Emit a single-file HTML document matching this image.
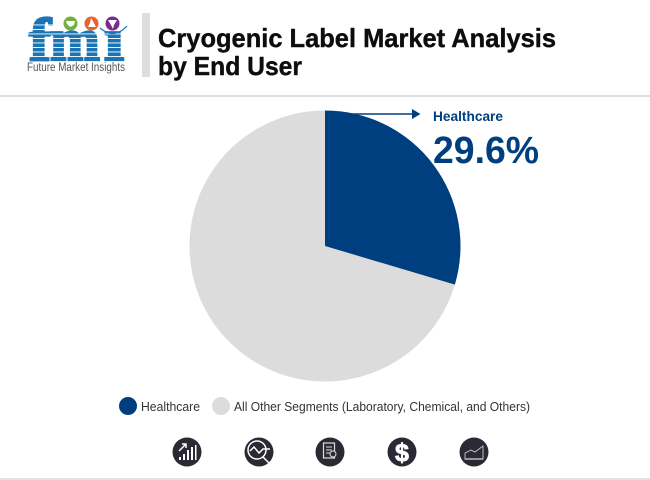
<!DOCTYPE html>
<html>
<head>
<meta charset="utf-8">
<style>
html,body{margin:0;padding:0;background:#fff;width:650px;height:480px;overflow:hidden}
svg{display:block}
text{font-family:"Liberation Sans",sans-serif}
</style>
</head>
<body>
<svg id="chart" width="650" height="480" viewBox="0 0 650 480" xmlns="http://www.w3.org/2000/svg">
  <rect width="650" height="480" fill="#fff"/>

  <g>
    <g font-size="60" font-weight="700" fill="#1b75b4" stroke="#1b75b4" stroke-width="2.2" style="font-family:'Liberation Serif',serif">
      <text x="29" y="60" textLength="22" lengthAdjust="spacingAndGlyphs" style="font-family:'Liberation Serif',serif">f</text>
      <text x="50" y="60" textLength="50" lengthAdjust="spacingAndGlyphs" style="font-family:'Liberation Serif',serif">m</text>
      <text x="104" y="60" textLength="20" lengthAdjust="spacingAndGlyphs" style="font-family:'Liberation Serif',serif">ı</text>
    </g>
    <g fill="#fff">
      <rect x="26" y="24.500" width="102" height="0.9"/><rect x="26" y="29" width="102" height="0.9"/>
      <rect x="26" y="33.500" width="102" height="0.9"/><rect x="26" y="38" width="102" height="0.9"/>
      <rect x="26" y="42.500" width="102" height="0.9"/><rect x="26" y="47" width="102" height="0.9"/>
      <rect x="26" y="51.500" width="102" height="0.9"/><rect x="26" y="56" width="102" height="0.9"/>
    </g>
    <circle cx="70.500" cy="23.500" r="7" fill="#72b13f"/>
    <path d="M66 21h9l-1 4-4 2-3-3z" fill="#fff"/>
    <circle cx="91.500" cy="23.500" r="7" fill="#e8622c"/>
    <path d="M91 18l3 5 2 4h-8l2-4z" fill="#fff"/>
    <circle cx="112.500" cy="23.500" r="7" fill="#7b2a8f"/>
    <path d="M108 20h9l-3 5-1 4-2-4z" fill="#fff"/>
    <path d="M100 28q14 12 27-2" fill="none" stroke="#1b75b4" stroke-width="1.200"/>
    <text x="27" y="71" font-size="11.500" fill="#555" textLength="98" lengthAdjust="spacingAndGlyphs">Future Market Insights</text>
  </g>

  <rect x="142" y="13" width="8" height="64" fill="#dedede"/>
  <text x="158" y="47" font-size="26" font-weight="700" fill="#0d0d0d" stroke="#0d0d0d" stroke-width="0.4" textLength="398" lengthAdjust="spacingAndGlyphs">Cryogenic Label Market Analysis</text>
  <text x="158" y="75" font-size="26" font-weight="700" fill="#0d0d0d" stroke="#0d0d0d" stroke-width="0.4" textLength="144" lengthAdjust="spacingAndGlyphs">by End User</text>
  <rect x="0" y="95" width="650" height="2" fill="#dedede"/>

  <g id="pie"></g>

  <g>
    <line x1="325" y1="114" x2="416" y2="114" stroke="#003f7f" stroke-width="1.500"/>
    <path d="M412 109l8.500 5-8.500 5z" fill="#003f7f"/>
    <text x="433" y="121" font-size="14" font-weight="700" fill="#003f7f" textLength="70" lengthAdjust="spacingAndGlyphs">Healthcare</text>
    <text id="callout-value" x="433" y="163" font-size="38" font-weight="700" fill="#003f7f" textLength="106" lengthAdjust="spacingAndGlyphs"></text>
  </g>

  <g>
    <g>
      <circle cx="128" cy="406" r="9" fill="#003f7f"/>
      <text x="141" y="411" font-size="12.500" fill="#333" textLength="59" lengthAdjust="spacingAndGlyphs">Healthcare</text>
    </g>
    <g>
      <circle cx="221" cy="406" r="9" fill="#dcdcdc"/>
      <text x="234" y="411" font-size="12.500" fill="#333" textLength="296" lengthAdjust="spacingAndGlyphs">All Other Segments (Laboratory, Chemical, and Others)</text>
    </g>
  </g>

  <g>
    <g>
      <circle cx="187" cy="452" r="14.500" fill="#2a2a35"/>
      <path d="M179 460h2v-3h-2zM183 460h2v-6h-2zM187 460h2v-10h-2zM191 460h2v-13h-2zM195 460h1.500v-15h-1.500z" fill="#fff"/>
      <path d="M179 451l7-7M182 444h4v4" fill="none" stroke="#fff" stroke-width="1.500"/>
    </g>
    <g>
      <circle cx="259" cy="452" r="14.500" fill="#2a2a35"/>
      <circle cx="257" cy="450" r="9" fill="none" stroke="#fff" stroke-width="1.500"/>
      <path d="M250 451l4-4 5 6 4-4h7M263 457l7 7" fill="none" stroke="#fff" stroke-width="1.500"/>
    </g>
    <g>
      <circle cx="330" cy="452" r="14.500" fill="#2a2a35"/>
      <rect x="323.500" y="443" width="11" height="15" fill="none" stroke="#ddd" stroke-width="1.200"/>
      <path d="M326 447h6M326 450h6M326 453h4" stroke="#ddd" stroke-width="1"/>
      <circle cx="333" cy="454" r="3" fill="#2a2a35" stroke="#ddd"/>
    </g>
    <g>
      <circle cx="402" cy="452" r="14.500" fill="#2a2a35"/>
      <text x="402" y="461" font-size="25" font-weight="700" fill="#fff" stroke="#fff" stroke-width="0.8" text-anchor="middle">$</text>
    </g>
    <g>
      <circle cx="474" cy="452" r="14.500" fill="#2a2a35"/>
      <path d="M465 459v-6l6-3 4 2 8-6v13z" fill="none" stroke="#bbb" stroke-width="1"/>
      <path d="M465 459h18" stroke="#bbb" stroke-width="1.500"/>
    </g>
  </g>
  <rect x="0" y="478" width="650" height="2" fill="#e2e2e2"/>
</svg>
<script>
var categories = ["Healthcare", "All Other Segments"];
var shareValues = [29.6, 70.4];
var sliceColors = ["#003f7f", "#dcdcdc"];

var centerX = 325, centerY = 246, radius = 135.5;
var pieGroup = document.getElementById('pie');
var total = shareValues.reduce(function (a, b) { return a + b; }, 0);

function angleScale(v) {
  return v / total * Math.PI * 2;
}
function pointAt(angle) {
  return [centerX + radius * Math.sin(angle), centerY - radius * Math.cos(angle)];
}

var startAngle = 0;
shareValues.forEach(function (value, i) {
  var sweep = angleScale(value);
  var endAngle = startAngle + sweep;
  var p0 = pointAt(startAngle);
  var p1 = pointAt(endAngle);
  var large = sweep > Math.PI ? 1 : 0;
  var el = document.createElementNS('http://www.w3.org/2000/svg', 'path');
  el.setAttribute('d', 'M' + centerX + ' ' + centerY + 'L' + p0[0] + ' ' + p0[1] +
    'A' + radius + ' ' + radius + ' 0 ' + large + ' 1 ' + p1[0] + ' ' + p1[1] + 'Z');
  el.setAttribute('fill', sliceColors[i]);
  
  
  var tip = document.createElementNS('http://www.w3.org/2000/svg', 'title');
  tip.textContent = categories[i] + ': ' + value + '%';
  el.appendChild(tip);
  pieGroup.insertBefore(el, pieGroup.firstChild);
  startAngle = endAngle;
});

document.getElementById('callout-value').textContent = shareValues[0].toFixed(1) + '%';
</script>
</body>
</html>
